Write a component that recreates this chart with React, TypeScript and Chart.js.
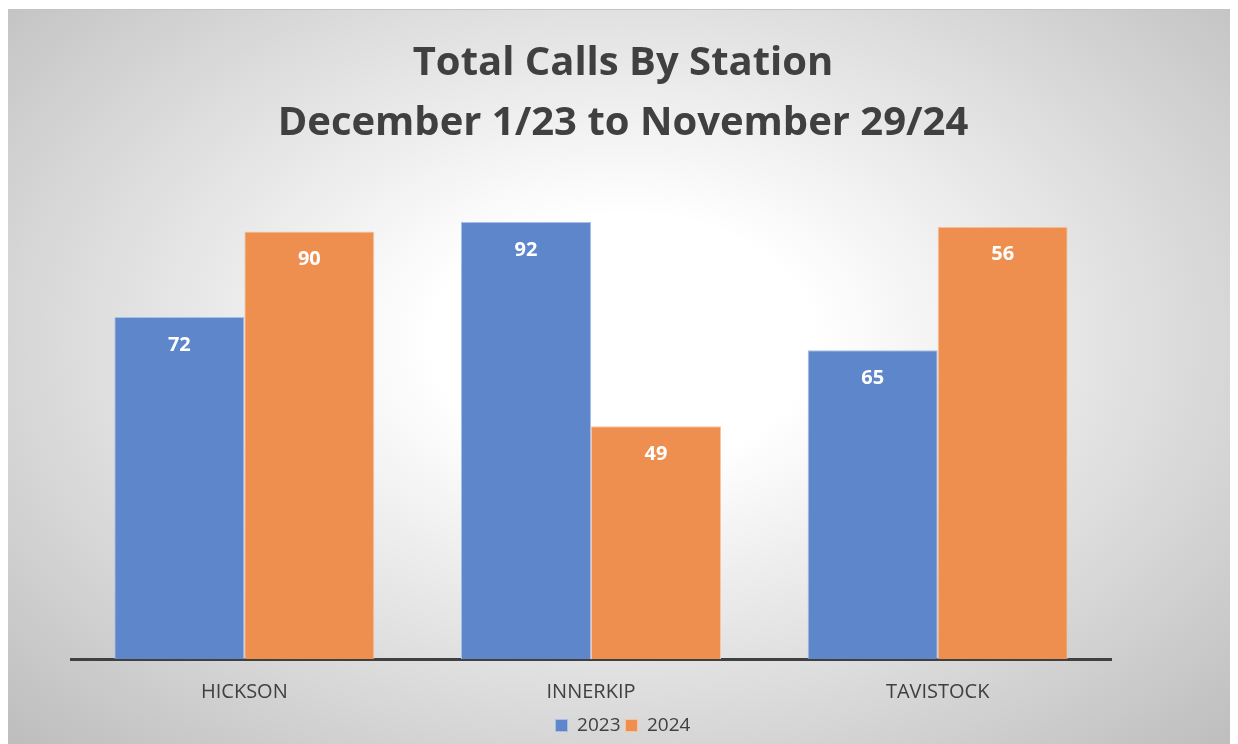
import React, { useEffect, useRef } from "react";
import { Chart, registerables } from "chart.js";

Chart.register(...registerables);

const stations = ["HICKSON", "INNERKIP", "TAVISTOCK"];
const calls2023 = [72, 92, 65];
const calls2024 = [90, 49, 91];
const labels2023 = ["72", "92", "65"];
const labels2024 = ["90", "49", "56"];
const titleLines = ["Total Calls By Station", "December 1/23 to November 29/24"];

const barLabelPlugin = {
  id: "barLabels",
  afterDatasetsDraw(chart: any) {
    const { ctx } = chart;
    ctx.save();
    ctx.fillStyle = "#ffffff";
    ctx.font = "bold 20px 'Open Sans', sans-serif";
    ctx.textAlign = "center";
    ctx.textBaseline = "middle";
    chart.data.datasets.forEach((ds: any, di: number) => {
      const meta = chart.getDatasetMeta(di);
      meta.data.forEach((bar: any, i: number) => {
        ctx.fillText(ds.valueLabels[i], bar.x, bar.y + 28);
      });
    });
    ctx.restore();
  },
};

export default function App() {
  const ref = useRef<HTMLCanvasElement>(null);
  useEffect(() => {
    if (!ref.current) return;
    const chart = new Chart(ref.current, {
      type: "bar",
      data: {
        labels: stations,
        datasets: [
          {
            label: "2023",
            data: calls2023,
            valueLabels: labels2023,
            backgroundColor: "#5d86cb",
            borderColor: "#a9bfe6",
            borderWidth: 1,
          } as any,
          {
            label: "2024",
            data: calls2024,
            valueLabels: labels2024,
            backgroundColor: "#ee8f4f",
            borderColor: "#f6c6a4",
            borderWidth: 1,
          } as any,
        ],
      },
      options: {
        animation: false,
        responsive: true,
        maintainAspectRatio: false,
        layout: { padding: { left: 0, right: 0, top: 24, bottom: 0 } },
        datasets: { bar: { categoryPercentage: 0.75, barPercentage: 1 } },
        scales: {
          x: {
            grid: { display: false },
            border: { display: true, color: "#404040", width: 3 },
            ticks: {
              color: "#404040",
              font: { family: "'Open Sans', sans-serif", size: 20 },
              padding: 13,
            },
            afterFit: (s: any) => {
              s.height = 52;
            },
          },
          y: {
            display: true,
            min: 0,
            max: 100,
            grid: { display: false },
            border: { display: false },
            ticks: { display: false },
            afterFit: (s: any) => {
              s.width = 63;
            },
          },
          yRight: {
            display: true,
            position: "right",
            grid: { display: false },
            border: { display: false },
            ticks: { display: false },
            afterFit: (s: any) => {
              s.width = 127;
            },
          },
        },
        plugins: {
          title: {
            display: true,
            text: titleLines,
            color: "#404040",
            font: { family: "'Open Sans', sans-serif", size: 40, weight: "bold", lineHeight: 1.5 },
            padding: { top: 0, bottom: 30 },
          },
          legend: {
            position: "bottom",
            labels: {
              color: "#404040",
              font: { family: "'Open Sans', sans-serif", size: 19 },
              boxWidth: 12,
              boxHeight: 12,
              padding: 5,
            },
          },
          tooltip: { enabled: false },
        },
      } as any,
      plugins: [barLabelPlugin],
    });
    return () => chart.destroy();
  }, []);
  return (
    <div
      style={{
        marginTop: 1,
        borderTop: "1px solid #c4c4c4",
        width: 1230,
        height: 735,
        background:
          "radial-gradient(ellipse farthest-corner at 50% 45%, #ffffff 0%, #ffffff 22%, #bdbdbd 100%)",
      }}
    >
      <canvas ref={ref} />
    </div>
  );
}
